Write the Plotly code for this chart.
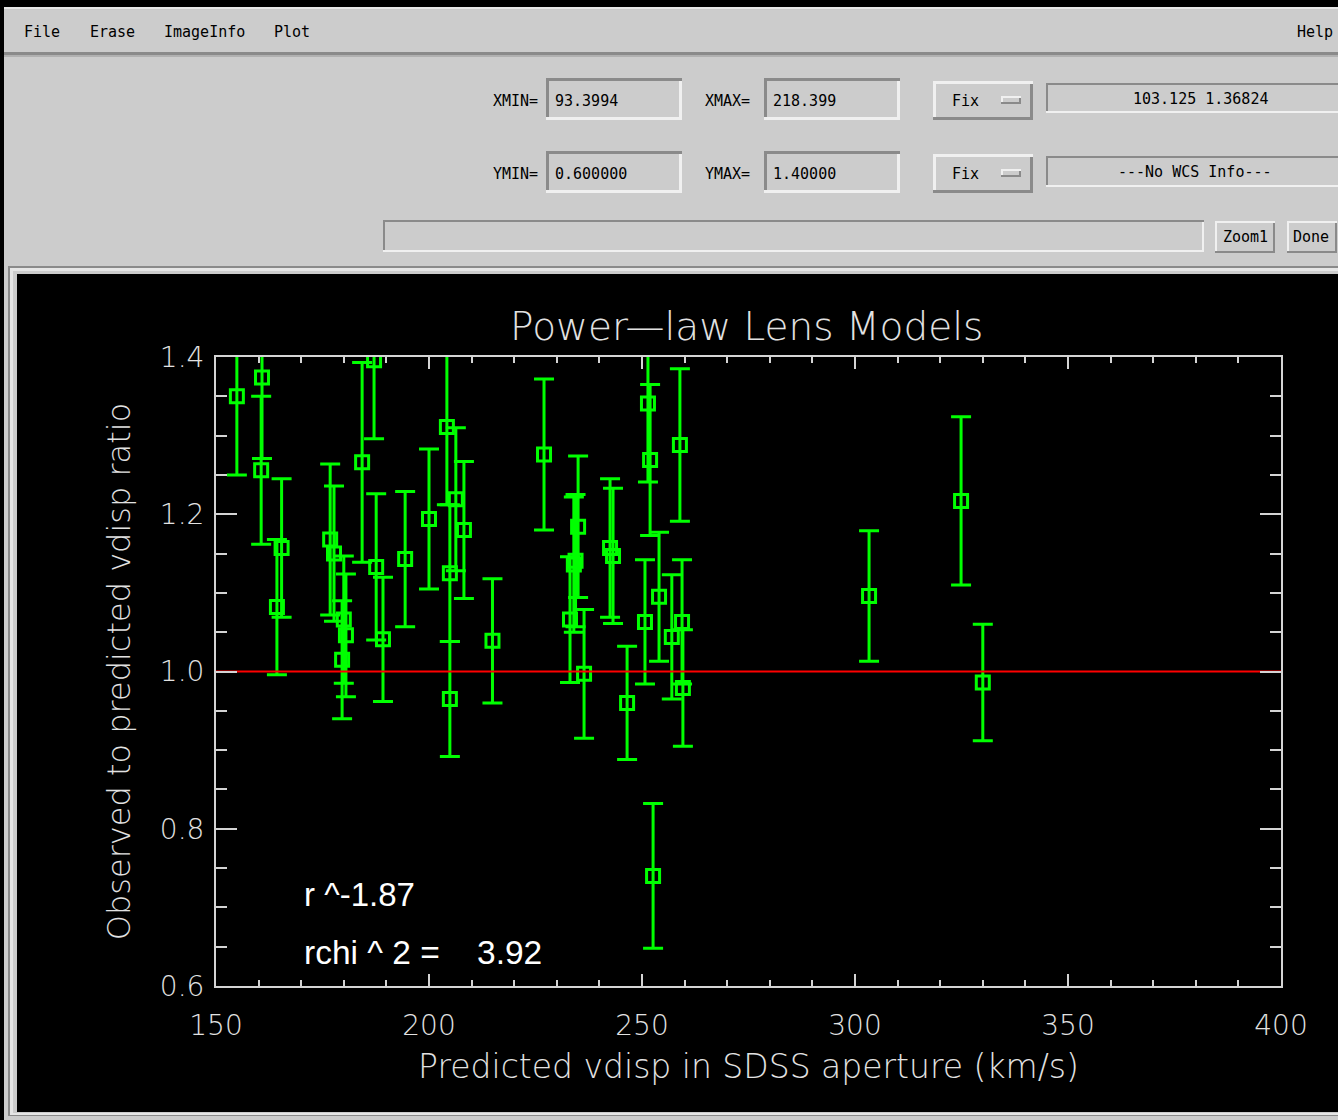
import plotly.graph_objects as go

# Canvas size in pixels (window of the plotting tool)
W, H = 1338, 1120

# Lens sample: predicted aperture velocity dispersion (km/s),
# observed/predicted ratio and its 1-sigma error
vpred = [154.9, 160.8, 160.6, 165.4, 164.3, 176.8, 177.7, 180.0, 180.5, 179.6,
         184.3, 187.1, 187.6, 189.2, 194.4, 200.0, 204.2, 204.9, 204.9, 206.3,
         208.2, 214.9, 227.0, 233.1, 234.0, 234.4, 235.0, 236.4, 242.5, 243.2,
         246.5, 250.7, 251.4, 251.9, 252.6, 254.0, 257.0, 258.9, 259.4, 259.6,
         303.3, 324.9, 330.0]
ratio = [1.350, 1.374, 1.256, 1.157, 1.082, 1.168, 1.150, 1.066, 1.046, 1.015,
         1.266, 1.396, 1.133, 1.041, 1.143, 1.194, 1.311, 1.125, 0.965, 1.219,
         1.180, 1.039, 1.276, 1.066, 1.136, 1.141, 1.184, 0.997, 1.157, 1.147,
         0.960, 1.063, 1.341, 1.269, 0.740, 1.095, 1.044, 1.288, 1.063, 0.979,
         1.096, 1.217, 0.986]
ratio_err = [0.100, 0.103, 0.094, 0.088, 0.086, 0.096, 0.086, 0.081, 0.078, 0.075,
             0.127, 0.100, 0.093, 0.079, 0.086, 0.089, 0.099, 0.087, 0.073, 0.091,
             0.087, 0.079, 0.096, 0.080, 0.086, 0.084, 0.090, 0.082, 0.088, 0.086,
             0.072, 0.079, 0.100, 0.096, 0.092, 0.082, 0.079, 0.097, 0.079, 0.074,
             0.083, 0.107, 0.074]

x_range = [150, 400]
y_range = [0.6, 1.4]
ref_ratio = 1.0

slope_text = "r ^-1.87"
chi_text = "rchi ^ 2 =    3.92"

# Widget values shown in the control panel
xmin_val, xmax_val = "93.3994", "218.399"
ymin_val, ymax_val = "0.600000", "1.40000"
cursor_text = "103.125 1.36824"
wcs_text = "---No WCS Info---"
menu_items = [("File", 22), ("Erase", 88), ("ImageInfo", 162), ("Plot", 272)]


def px(x):
    return x / W


def py(y):
    return 1 - y / H


shapes = []
annotations = []

GRAY = "#cccccc"
LIGHT = "#f0f0f0"
DARK = "#8a8a8a"
GUI_FONT = dict(family="DejaVu Sans Mono", size=15, color="#000000")


def rect(x0, y0, x1, y1, fill):
    shapes.append(dict(type="rect", xref="paper", yref="paper",
                       x0=px(x0), x1=px(x1), y0=py(y1), y1=py(y0),
                       fillcolor=fill, line=dict(width=0), layer="below"))


def bevel(x0, y0, x1, y1, sunken, w=2):
    tl, br = (DARK, LIGHT) if sunken else (LIGHT, DARK)
    rect(x0, y0, x1, y0 + w, tl)
    rect(x0, y0, x0 + w, y1, tl)
    rect(x0, y1 - w, x1, y1, br)
    rect(x1 - w, y0 + w, x1, y1, br)


def label(x, y, text, xanchor="left", font=GUI_FONT):
    annotations.append(dict(text=text, xref="paper", yref="paper",
                            x=px(x), y=py(y), xanchor=xanchor, yanchor="middle",
                            showarrow=False, font=font))


# Window edges and menu bar
rect(0, 0, W, 7, "#000000")
rect(0, 0, 4, H, "#000000")
rect(4, 7, W, 9, "#e8e8e8")
rect(4, 52, W, 55, "#8a8a8a")
rect(4, 55, W, 57, "#b0b0b0")
for name, x in menu_items:
    label(x, 32, name)
label(1335, 32, "Help", xanchor="right")

# Range entry fields
for row_y, (lo, hi), (lo_txt, hi_txt) in [
        (100, ("XMIN=", "XMAX="), (xmin_val, xmax_val)),
        (173, ("YMIN=", "YMAX="), (ymin_val, ymax_val))]:
    top, bot = row_y - 22, row_y + 20
    label(540, row_y + 1, lo, xanchor="right")
    bevel(546, top, 682, bot, True, 3)
    label(553, row_y + 1, lo_txt)
    label(752, row_y + 1, hi, xanchor="right")
    bevel(764, top, 900, bot, True, 3)
    label(771, row_y + 1, hi_txt)
    # "Fix" option button
    bevel(933, top + 3, 1033, bot, False, 3)
    label(950, row_y + 1, "Fix")
    bevel(1001, row_y - 4, 1021, row_y + 4, False, 2)

# Status readouts
bevel(1046, 83, 1360, 113, True, 2)
label(1200, 99, cursor_text, xanchor="center")
bevel(1046, 156, 1360, 187, True, 2)
label(1195, 172, wcs_text, xanchor="center")

# Bottom control row
bevel(383, 220, 1204, 252, True, 2)
bevel(1215, 221, 1275, 253, False, 2)
label(1245, 237, "Zoom1", xanchor="center")
bevel(1287, 221, 1337, 253, False, 2)
label(1311, 237, "Done", xanchor="center")

# Drawing area frame and canvas
rect(8, 266, W, 1116, DARK)
rect(10, 268, W, 1115, "#e6e6e6")
rect(13, 271, W, 1113, GRAY)
rect(17, 274, W, 1112, "#000000")

# Plot text styling
AX_COLOR = "#d4d4d4"
TXT_COLOR = "#e2e2e2"
TICK_FONT = dict(family="DejaVu Sans", size=28, color=TXT_COLOR, weight=200)

fig = go.Figure()

fig.add_trace(go.Scatter(
    x=vpred, y=ratio, mode="markers",
    marker=dict(symbol="square-open", size=13, color="#00ff00",
                line=dict(width=3, color="#00ff00")),
    error_y=dict(type="data", array=ratio_err, color="#00ff00",
                 thickness=3, width=10),
    cliponaxis=True, showlegend=False, hoverinfo="x+y"))

fig.add_trace(go.Scatter(
    x=x_range, y=[ref_ratio, ref_ratio], mode="lines",
    line=dict(color="#ff0000", width=2), showlegend=False, hoverinfo="skip"))

# Fit summary text
annotations.append(dict(text=slope_text.replace(" ", "\u00a0"), x=170.2, y=0.716,
                        xref="x", yref="y", xanchor="left", yanchor="middle",
                        showarrow=False,
                        font=dict(family="Liberation Sans", size=33, color="#ffffff")))
annotations.append(dict(text=chi_text.replace(" ", "\u00a0"), x=170.2, y=0.642,
                        xref="x", yref="y", xanchor="left", yanchor="middle",
                        showarrow=False,
                        font=dict(family="Liberation Sans", size=33.5, color="#ffffff")))

# Plot title
annotations.append(dict(text="Power\u2014law Lens Models", xref="paper", yref="paper",
                        x=px(747), y=py(327), xanchor="center", yanchor="middle",
                        showarrow=False,
                        font=dict(family="DejaVu Sans", size=39, color=TXT_COLOR,
                                  weight=200)))

axis_common = dict(showline=True, linecolor=AX_COLOR, linewidth=2, mirror="ticks",
                   ticks="inside", tickcolor=AX_COLOR, tickwidth=2,
                   showgrid=False, zeroline=False, tickfont=TICK_FONT,
                   fixedrange=True, automargin=False)

fig.update_xaxes(range=x_range, domain=[px(216), px(1281)], tick0=150, dtick=50,
                 ticklen=12, ticklabelstandoff=13,
                 minor=dict(ticks="inside", dtick=10, ticklen=6,
                            tickcolor=AX_COLOR, tickwidth=2, showgrid=False),
                 title=dict(text="Predicted vdisp in SDSS aperture (km/s)", standoff=14,
                            font=dict(family="DejaVu Sans", size=33, color=TXT_COLOR,
                                      weight=200)),
                 **axis_common)
fig.update_yaxes(range=y_range, domain=[py(986), py(357)], tick0=0.6, dtick=0.2,
                 tickformat=".1f", ticklen=21, ticklabelstandoff=4,
                 minor=dict(ticks="inside", dtick=0.05, ticklen=11,
                            tickcolor=AX_COLOR, tickwidth=2, showgrid=False),
                 title=dict(text="Observed to predicted vdisp ratio", standoff=20,
                            font=dict(family="DejaVu Sans", size=32, color=TXT_COLOR,
                                      weight=200)),
                 **axis_common)

fig.update_layout(width=W, height=H, autosize=False,
                  margin=dict(l=0, r=0, t=0, b=0, pad=0, autoexpand=False),
                  paper_bgcolor=GRAY, plot_bgcolor="#000000",
                  shapes=shapes, annotations=annotations, showlegend=False)

fig.write_html("out.html")
